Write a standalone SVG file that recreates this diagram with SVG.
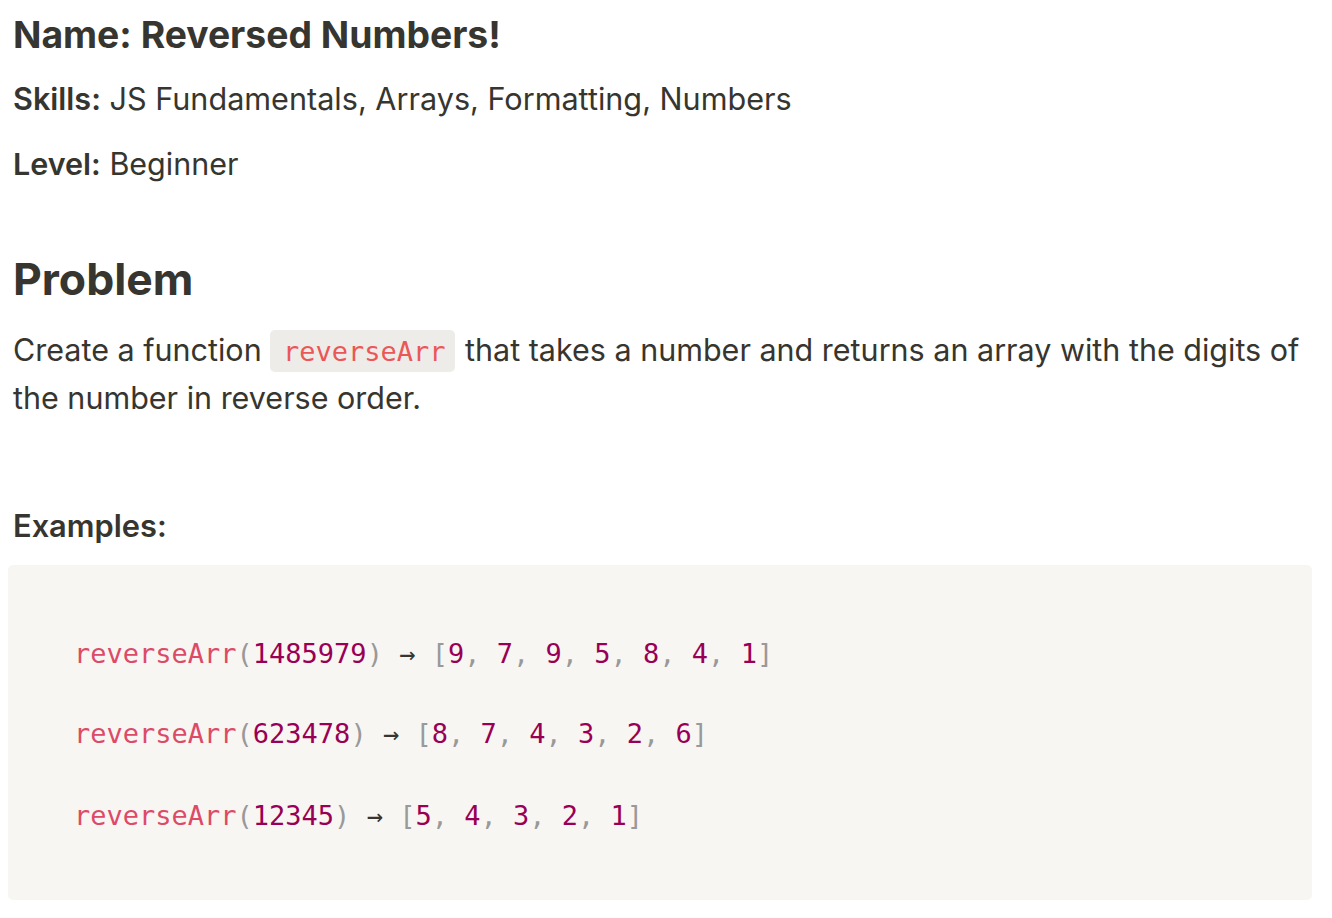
<svg xmlns="http://www.w3.org/2000/svg" width="1332" height="918" viewBox="0 0 1332 918">
<style>
.t{font-family:Inter,"Noto Sans","Liberation Sans",sans-serif;fill:#37352F}
.b{font-weight:700}
.sb{font-weight:600}
.m{font-family:"DejaVu Sans Mono","Liberation Mono",monospace;font-size:27px}
.fn{fill:#DD4A68}
.p{fill:#999999}
.n{fill:#990055}
.o{fill:#37352F}
</style>
<rect width="1332" height="918" fill="#FFFFFF"/>
<g id="header">
<text class="t b" x="13" y="48" font-size="37.3">Name: Reversed Numbers!</text>
<text class="t" x="13" y="110" font-size="30.6"><tspan class="sb">Skills:</tspan> JS Fundamentals, Arrays, Formatting, Numbers</text>
<text class="t" x="13" y="175" font-size="30.5"><tspan class="sb">Level:</tspan> Beginner</text>
</g>
<g id="problem">
<text class="t b" x="13" y="295" font-size="44.5">Problem</text>
<rect x="270" y="330" width="185" height="42" rx="5" fill="#EDECE9"/>
<text class="t" x="13" y="361" font-size="30.5">Create a function</text>
<text class="m" x="283" y="361" fill="#EB5757">reverseArr</text>
<text class="t" x="465" y="361" font-size="30.5">that takes a number and returns an array with the digits of</text>
<text class="t" x="13" y="409" font-size="30.5">the number in reverse order.</text>
</g>
<g id="examples">
<text class="t sb" x="13" y="537" font-size="30.8">Examples:</text>
<rect x="8" y="565" width="1304" height="335" rx="5" fill="#F7F6F3"/>
<text class="m" x="74" y="663" xml:space="preserve"><tspan class="fn">reverseArr</tspan><tspan class="p">(</tspan><tspan class="n">1485979</tspan><tspan class="p">)</tspan><tspan class="o"> → </tspan><tspan class="p">[</tspan><tspan class="n">9</tspan><tspan class="p">, </tspan><tspan class="n">7</tspan><tspan class="p">, </tspan><tspan class="n">9</tspan><tspan class="p">, </tspan><tspan class="n">5</tspan><tspan class="p">, </tspan><tspan class="n">8</tspan><tspan class="p">, </tspan><tspan class="n">4</tspan><tspan class="p">, </tspan><tspan class="n">1</tspan><tspan class="p">]</tspan></text>
<text class="m" x="74" y="743" xml:space="preserve"><tspan class="fn">reverseArr</tspan><tspan class="p">(</tspan><tspan class="n">623478</tspan><tspan class="p">)</tspan><tspan class="o"> → </tspan><tspan class="p">[</tspan><tspan class="n">8</tspan><tspan class="p">, </tspan><tspan class="n">7</tspan><tspan class="p">, </tspan><tspan class="n">4</tspan><tspan class="p">, </tspan><tspan class="n">3</tspan><tspan class="p">, </tspan><tspan class="n">2</tspan><tspan class="p">, </tspan><tspan class="n">6</tspan><tspan class="p">]</tspan></text>
<text class="m" x="74" y="825" xml:space="preserve"><tspan class="fn">reverseArr</tspan><tspan class="p">(</tspan><tspan class="n">12345</tspan><tspan class="p">)</tspan><tspan class="o"> → </tspan><tspan class="p">[</tspan><tspan class="n">5</tspan><tspan class="p">, </tspan><tspan class="n">4</tspan><tspan class="p">, </tspan><tspan class="n">3</tspan><tspan class="p">, </tspan><tspan class="n">2</tspan><tspan class="p">, </tspan><tspan class="n">1</tspan><tspan class="p">]</tspan></text>
</g>
</svg>
